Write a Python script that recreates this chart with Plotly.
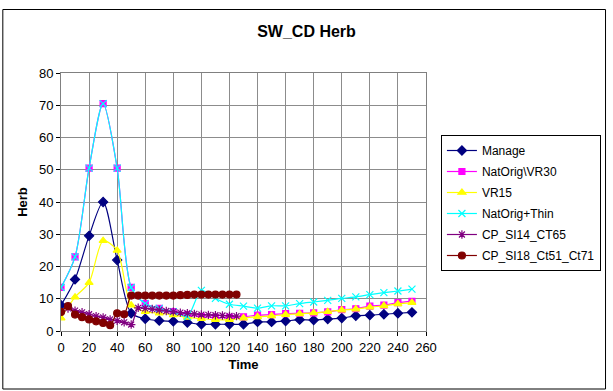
import plotly.graph_objects as go

time_main = [0, 10, 20, 30, 40, 50, 60, 70, 80, 90, 100, 110, 120, 130, 140, 150, 160, 170, 180, 190, 200, 210, 220, 230, 240, 250]
manage = [8, 16, 29.5, 40, 22, 5.5, 3.8, 3.2, 3.0, 2.6, 2.1, 2.1, 2.1, 2.1, 2.8, 2.8, 3.1, 3.5, 3.4, 3.7, 4.0, 4.7, 4.9, 5.2, 5.5, 5.8]
natorig_vr30 = [13.5, 23, 50.5, 70.5, 50.5, 13.5, 8.5, 7.0, 6.0, 5.0, 4.5, 4.2, 4.2, 4.4, 4.9, 5.1, 5.4, 5.5, 5.6, 5.9, 6.6, 6.9, 7.7, 8.0, 8.8, 9.2]
vr15 = [4, 10.5, 15, 28, 25, 8, 6, 5.5, 5, 4.2, 3.8, 3.5, 3.5, 4.0, 4.4, 4.7, 5.1, 5.3, 5.6, 6.0, 6.5, 6.8, 7.4, 7.8, 8.4, 8.8]
natorig_thin = [13.5, 23, 50.5, 70.5, 50.5, 13.5, 8.5, 7.0, 6.0, 4.5, 12.6, 10.1, 8.3, 7.7, 7.1, 7.8, 7.8, 8.5, 9.0, 9.5, 10.1, 10.6, 11.3, 11.9, 12.4, 13.0]

time_cp14 = [5, 10, 15, 20, 25, 30, 35, 40, 45, 50, 55, 60, 65, 70, 75, 80, 85, 90, 95, 100, 105, 110, 115, 120, 125]
cp_si14 = [7.0, 6.3, 5.8, 5.2, 4.6, 4.2, 3.6, 3.2, 2.7, 2.0, 7.2, 7.0, 6.8, 6.5, 6.2, 6.0, 5.7, 5.5, 5.3, 5.1, 5.0, 4.9, 4.8, 4.7, 4.6]

time_cp18 = [0, 5, 10, 15, 20, 25, 30, 35, 40, 45, 50, 55, 60, 65, 70, 75, 80, 85, 90, 95, 100, 105, 110, 115, 120, 125]
cp_si18 = [5.9, 7.7, 5.1, 4.3, 3.6, 3.0, 2.5, 1.8, 5.5, 5.2, 11.0, 11.0, 11.0, 11.0, 11.0, 11.0, 11.0, 11.1, 11.2, 11.3, 11.3, 11.3, 11.3, 11.3, 11.3, 11.3]

FONT = "Liberation Sans, Arial, sans-serif"

series = [
    ("Manage", time_main, manage, "#000080", "diamond", 7),
    ("NatOrig\\VR30", time_main, natorig_vr30, "#FF00FF", "square", 6),
    ("VR15", time_main, vr15, "#FFFF00", "triangle-up", 7),
    ("NatOrig+Thin", time_main, natorig_thin, "#00FFFF", "x-thin-open", 7),
    ("CP_SI14_CT65", time_cp14, cp_si14, "#800080", "asterisk-open", 7),
    ("CP_SI18_Ct51_Ct71", time_cp18, cp_si18, "#800000", "circle", 7),
]

fig = go.Figure()
for name, xs, ys, col, sym, sz in series:
    fig.add_trace(go.Scatter(
        x=xs, y=ys, name=name, mode="lines+markers", legendgroup=name,
        line=dict(color=col, width=1.2, shape="spline", smoothing=0.8),
        marker=dict(color=col, symbol=sym, size=sz, line=dict(color=col, width=1.2)),
    ))

W, H = 613, 391
L, R, T, B = 61, 428, 73, 331
pw, ph = R - L, B - T

def px_x(p):
    return (p - L) / pw

def px_y(p):
    return (B - p) / ph

fig.update_layout(
    width=W, height=H,
    margin=dict(l=L, r=W - R, t=T, b=H - B),
    paper_bgcolor="white", plot_bgcolor="white",
    font=dict(family=FONT, size=13, color="black"),
    title=dict(text="<b>SW_CD Herb</b>", x=0.5, xanchor="center", xref="container",
               y=1 - 31 / H, yanchor="middle", yref="container",
               font=dict(family=FONT, size=16, color="black")),
    showlegend=True,
    legend=dict(x=px_x(443), y=px_y(135), xanchor="left", yanchor="top",
                bordercolor="black", borderwidth=1, bgcolor="white",
                font=dict(family=FONT, size=12, color="black"),
                tracegroupgap=2, itemwidth=30),
    xaxis=dict(range=[0, 260], dtick=20, tick0=0, showgrid=True, gridcolor="#8c8c8c", gridwidth=1,
               showline=True, linecolor="#808080", mirror=True, linewidth=1,
               ticks="outside", ticklen=4, tickcolor="black", zeroline=False,
               tickfont=dict(family=FONT, size=13),
               title=dict(text="<b>Time</b>", font=dict(family=FONT, size=13), standoff=6)),
    yaxis=dict(range=[0, 80], dtick=10, tick0=0, showgrid=True, gridcolor="#8c8c8c", gridwidth=1,
               showline=True, linecolor="#808080", mirror=True, linewidth=1,
               ticks="outside", ticklen=4, tickcolor="black", zeroline=False,
               tickfont=dict(family=FONT, size=13),
               title=dict(text="<b>Herb</b>", font=dict(family=FONT, size=13), standoff=8)),
    shapes=[dict(type="rect", xref="paper", yref="paper",
                 x0=px_x(2.5), x1=px_x(608.5), y0=px_y(389), y1=px_y(9.5),
                 line=dict(color="black", width=1), fillcolor="rgba(0,0,0,0)", layer="below")],
)

fig.write_html("out.html", config={"displayModeBar": False},
               post_script="document.body.style.margin='0';document.body.style.overflow='hidden';")
